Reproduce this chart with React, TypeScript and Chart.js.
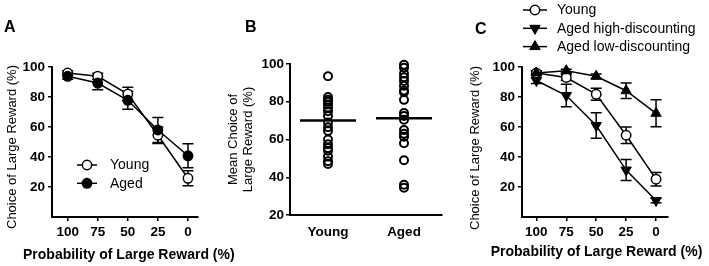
import React, { useEffect, useRef } from 'react';
import { Chart, registerables } from 'chart.js';

Chart.register(...registerables);

const FONT = "'Liberation Sans', Arial, Helvetica, sans-serif";

// ---- Data ----
const probLabels = [100, 75, 50, 25, 0];
const yTickValues = [20, 40, 60, 80, 100];

// Panel A
const aYoung = [96, 93.8, 82, 54.5, 25.8];
const aYoungErr = [1.5, 2, 4.5, 5.5, 5];
const aAged = [93.8, 89.3, 77.8, 58, 40.8];
const aAgedErr = [2, 4.5, 6, 8.4, 8];

// Panel B
const bGroups = ['Young', 'Aged'];
const bYoung = [93.5, 82.5, 81, 80, 78.5, 77, 75, 72.5, 69, 66.5, 64.5, 60, 57.5, 55.5, 54, 51, 48.5, 47];
const bAged = [99.6, 98, 95, 93, 91, 88.5, 86, 85, 81, 74, 72.5, 70.5, 65, 63, 61.5, 58, 49, 36, 34.5];
const bMeans = [70.1, 71.2];

// Panel C
const cYoung = [96, 93, 81.8, 54.5, 25.2];
const cYoungErr = [1.5, 2, 4, 5.5, 4.5];
const cHigh = [91, 81, 61, 31.3, 11];
const cHighErr = [2, 7.5, 8.5, 7, 1.5];
const cLow = [96, 97.5, 93.8, 84.2, 69.1];
const cLowErr = [1, 1, 1.5, 5.2, 9];

const seriesNames = ['Young', 'Aged', 'Aged high-discounting', 'Aged low-discounting'];
const xTitle = 'Probability of Large Reward (%)';
const yTitle = ['Choice of Large Reward (%)'];
const bYTitle = ['Mean Choice of', 'Large Reward (%)'];

// ---- Helpers ----
function drawMarker(ctx: CanvasRenderingContext2D, style: string, r: number, rotDeg: number, x: number, y: number) {
  ctx.beginPath();
  if (style === 'triangle') {
    let a = (rotDeg * Math.PI) / 180;
    ctx.moveTo(x + Math.sin(a) * r, y - Math.cos(a) * r);
    a += (2 * Math.PI) / 3;
    ctx.lineTo(x + Math.sin(a) * r, y - Math.cos(a) * r);
    a += (2 * Math.PI) / 3;
    ctx.lineTo(x + Math.sin(a) * r, y - Math.cos(a) * r);
    ctx.closePath();
  } else {
    ctx.arc(x, y, r, 0, Math.PI * 2);
  }
  ctx.fill();
  ctx.stroke();
}

const errorBarsPlugin = {
  id: 'errorBars',
  beforeDatasetsDraw(chart: any) {
    const ctx = chart.ctx;
    const yScale = chart.scales.y;
    chart.data.datasets.forEach((ds: any, i: number) => {
      if (!ds.errors) return;
      const meta = chart.getDatasetMeta(i);
      ctx.save();
      ctx.strokeStyle = '#000';
      ctx.lineWidth = 1.5;
      meta.data.forEach((pt: any, j: number) => {
        const v = ds.data[j].y;
        const e = ds.errors[j];
        const x = pt.x;
        const y1 = yScale.getPixelForValue(v + e);
        const y2 = yScale.getPixelForValue(v - e);
        ctx.beginPath();
        ctx.moveTo(x, y1);
        ctx.lineTo(x, y2);
        ctx.moveTo(x - 5.5, y1);
        ctx.lineTo(x + 5.5, y1);
        ctx.moveTo(x - 5.5, y2);
        ctx.lineTo(x + 5.5, y2);
        ctx.stroke();
      });
      ctx.restore();
    });
  },
};

const inlineLegendPlugin = {
  id: 'inlineLegend',
  afterDatasetsDraw(chart: any, _args: any, opts: any) {
    if (!opts || !opts.display) return;
    const ctx = chart.ctx;
    const n = chart.data.datasets.length;
    for (let k = 0; k < n; k++) {
      const ds = chart.data.datasets[k];
      const y = opts.y + k * opts.dy;
      ctx.save();
      ctx.strokeStyle = '#000';
      ctx.lineWidth = 1.5;
      ctx.beginPath();
      ctx.moveTo(opts.x - opts.half, y);
      ctx.lineTo(opts.x + opts.half, y);
      ctx.stroke();
      ctx.fillStyle = ds.pointBackgroundColor;
      ctx.strokeStyle = ds.pointBorderColor;
      ctx.lineWidth = ds.pointBorderWidth;
      drawMarker(ctx, ds.pointStyle, ds.pointRadius, ds.pointRotation || 0, opts.x, y);
      ctx.fillStyle = '#000';
      ctx.font = `${opts.fontSize}px ${FONT}`;
      ctx.textAlign = 'left';
      ctx.textBaseline = 'middle';
      ctx.fillText(ds.label, opts.textX, y + 0.5);
      ctx.restore();
    }
  },
};

// Panel letter + axis titles drawn without Chart.js's width squeezing
const annotationsPlugin = {
  id: 'panelText',
  afterDraw(chart: any, _args: any, opts: any) {
    if (!opts) return;
    const ctx = chart.ctx;
    const ca = chart.chartArea;
    ctx.save();
    ctx.fillStyle = '#000';
    ctx.textBaseline = 'middle';
    if (opts.letter) {
      ctx.font = `bold 16px ${FONT}`;
      ctx.textAlign = 'left';
      ctx.fillText(opts.letter, opts.letterX, opts.letterY);
    }
    if (opts.xTitle) {
      ctx.font = `bold 14px ${FONT}`;
      ctx.textAlign = 'center';
      ctx.fillText(opts.xTitle, (ca.left + ca.right) / 2 + opts.xTitleDx, opts.xTitleY);
    }
    if (opts.yTitle) {
      const lines: string[] = opts.yTitle;
      ctx.font = `13px ${FONT}`;
      ctx.textAlign = 'center';
      const cy = (ca.top + ca.bottom) / 2 + opts.yTitleDy;
      lines.forEach((t: string, i: number) => {
        ctx.save();
        ctx.translate(opts.yTitleX + i * opts.yTitleLine, cy);
        ctx.rotate(-Math.PI / 2);
        ctx.fillText(t, 0, 0);
        ctx.restore();
      });
    }
    ctx.restore();
  },
};

const meanLinesPlugin = {
  id: 'meanLines',
  afterDatasetsDraw(chart: any, _args: any, opts: any) {
    if (!opts || !opts.display) return;
    const ctx = chart.ctx;
    const xs = chart.scales.x;
    const ys = chart.scales.y;
    ctx.save();
    ctx.strokeStyle = '#000';
    ctx.lineWidth = 2.5;
    bMeans.forEach((m, i) => {
      const x = xs.getPixelForValue(i);
      const y = ys.getPixelForValue(m);
      ctx.beginPath();
      ctx.moveTo(x - opts.half, y);
      ctx.lineTo(x + opts.half, y);
      ctx.stroke();
    });
    ctx.restore();
  },
};

function lineDataset(label: string, values: number[], errors: number[], style: string, fill: string, rotation: number, order: number) {
  return {
    label,
    data: probLabels.map((p, i) => ({ x: p, y: values[i] })),
    errors,
    borderColor: '#000',
    borderWidth: 1.5,
    pointStyle: style,
    pointRotation: rotation,
    pointRadius: style === 'triangle' ? 6 : 4.7,
    pointBackgroundColor: fill,
    pointBorderColor: '#000',
    pointBorderWidth: style === 'triangle' ? 1 : 1.5,
    tension: 0,
    clip: false as any,
    order,
  };
}

function axisCommon() {
  return {
    ticks: { color: '#000', font: { family: FONT, size: 13.5, weight: 'bold' as any }, maxRotation: 0, autoSkip: false },
    grid: { drawOnChartArea: false, drawTicks: true, tickLength: 4, color: '#000', lineWidth: 1.5 },
    border: { display: true, color: '#000', width: 2 },
  };
}

function probChartConfig(datasets: any[], padTop: number, padRight: number, xMin: number, xMax: number, yWidth: number, legend: any, text: any) {
  const xc = axisCommon();
  const yc = axisCommon();
  return {
    type: 'line',
    data: { datasets },
    options: {
      responsive: false,
      animation: false,
      events: [],
      layout: { padding: { left: 0, top: padTop, right: padRight, bottom: 0 } },
      plugins: {
        legend: { display: false },
        tooltip: { enabled: false },
        inlineLegend: legend,
        panelText: text,
      },
      scales: {
        x: {
          type: 'linear',
          reverse: true,
          min: xMin,
          max: xMax,
          afterBuildTicks: (s: any) => {
            s.ticks = probLabels.map((v) => ({ value: v }));
          },
          afterFit: (s: any) => {
            s.height = 49;
          },
          ticks: { ...xc.ticks, padding: 3, callback: (v: any) => String(v) },
          grid: xc.grid,
          border: xc.border,
        },
        y: {
          type: 'linear',
          min: 0,
          max: 100,
          afterBuildTicks: (s: any) => {
            s.ticks = yTickValues.map((v) => ({ value: v }));
          },
          afterFit: (s: any) => {
            s.width = yWidth;
          },
          ticks: { ...yc.ticks, padding: 3 },
          grid: yc.grid,
          border: yc.border,
        },
      },
    },
    plugins: [errorBarsPlugin, inlineLegendPlugin, annotationsPlugin],
  };
}

function configA() {
  const datasets = [
    lineDataset(seriesNames[0], aYoung, aYoungErr, 'circle', '#fff', 0, 1),
    lineDataset(seriesNames[1], aAged, aAgedErr, 'circle', '#000', 0, 0),
  ];
  return probChartConfig(
    datasets,
    67,
    42.4,
    -8,
    113,
    52,
    { display: true, x: 87, y: 165, dy: 18.3, half: 10, textX: 110, fontSize: 14 },
    {
      letter: 'A', letterX: 4, letterY: 28,
      xTitle, xTitleDx: 4, xTitleY: 255,
      yTitle, yTitleX: 12, yTitleLine: 15, yTitleDy: 5,
    }
  );
}

function configC() {
  const datasets = [
    lineDataset(seriesNames[0], cYoung, cYoungErr, 'circle', '#fff', 0, 2),
    lineDataset(seriesNames[2], cHigh, cHighErr, 'triangle', '#000', 180, 1),
    lineDataset(seriesNames[3], cLow, cLowErr, 'triangle', '#000', 0, 0),
  ];
  return probChartConfig(
    datasets,
    67,
    41,
    -10,
    112,
    62,
    { display: true, x: 75, y: 10, dy: 18.3, half: 12, textX: 97, fontSize: 14 },
    {
      letter: 'C', letterX: 15, letterY: 30,
      xTitle, xTitleDx: 1.5, xTitleY: 252,
      yTitle, yTitleX: 15, yTitleLine: 15, yTitleDy: 6,
    }
  );
}

function configB() {
  const xc = axisCommon();
  const yc = axisCommon();
  const scatter = (label: string, values: number[]) => ({
    label,
    data: values.map((v) => ({ x: label, y: v })),
    showLine: false,
    pointStyle: 'circle',
    pointRadius: 4,
    pointBorderWidth: 2,
    pointBackgroundColor: 'rgba(0,0,0,0)',
    pointBorderColor: '#000',
    clip: false as any,
  });
  return {
    type: 'line',
    data: {
      labels: bGroups,
      datasets: [scatter(bGroups[0], bYoung), scatter(bGroups[1], bAged)],
    },
    options: {
      responsive: false,
      animation: false,
      events: [],
      layout: { padding: { left: 0, top: 64, right: 18, bottom: 0 } },
      plugins: {
        legend: { display: false },
        tooltip: { enabled: false },
        meanLines: { display: true, half: 28 },
        panelText: {
          letter: 'B', letterX: 19, letterY: 28,
          yTitle: bYTitle, yTitleX: 7.5, yTitleLine: 14.5, yTitleDy: 0,
        },
      },
      scales: {
        x: {
          type: 'category',
          offset: true,
          afterFit: (s: any) => {
            s.height = 51;
          },
          ticks: { ...xc.ticks, padding: 5 },
          grid: { ...xc.grid, color: 'rgba(0,0,0,0)' },
          border: xc.border,
        },
        y: {
          type: 'linear',
          min: 20,
          max: 100,
          afterBuildTicks: (s: any) => {
            s.ticks = yTickValues.map((v) => ({ value: v }));
          },
          afterFit: (s: any) => {
            s.width = 64;
          },
          ticks: { ...yc.ticks, padding: 2 },
          grid: yc.grid,
          border: yc.border,
        },
      },
    },
    plugins: [meanLinesPlugin, annotationsPlugin],
  };
}

function Panel({ left, width, makeConfig }: { left: number; width: number; makeConfig: () => any }) {
  const ref = useRef<HTMLCanvasElement>(null);
  useEffect(() => {
    const chart = new Chart(ref.current as HTMLCanvasElement, makeConfig());
    return () => chart.destroy();
  }, []);
  return (
    <canvas
      ref={ref}
      width={width}
      height={266}
      style={{ position: 'absolute', left, top: 0, width, height: 266 }}
    />
  );
}

export default function App() {
  return (
    <div style={{ position: 'absolute', left: 0, top: 0, width: 709, height: 266, background: '#fff', overflow: 'hidden' }}>
      <Panel left={0} width={240} makeConfig={configA} />
      <Panel left={226} width={234} makeConfig={configB} />
      <Panel left={460} width={249} makeConfig={configC} />
    </div>
  );
}
